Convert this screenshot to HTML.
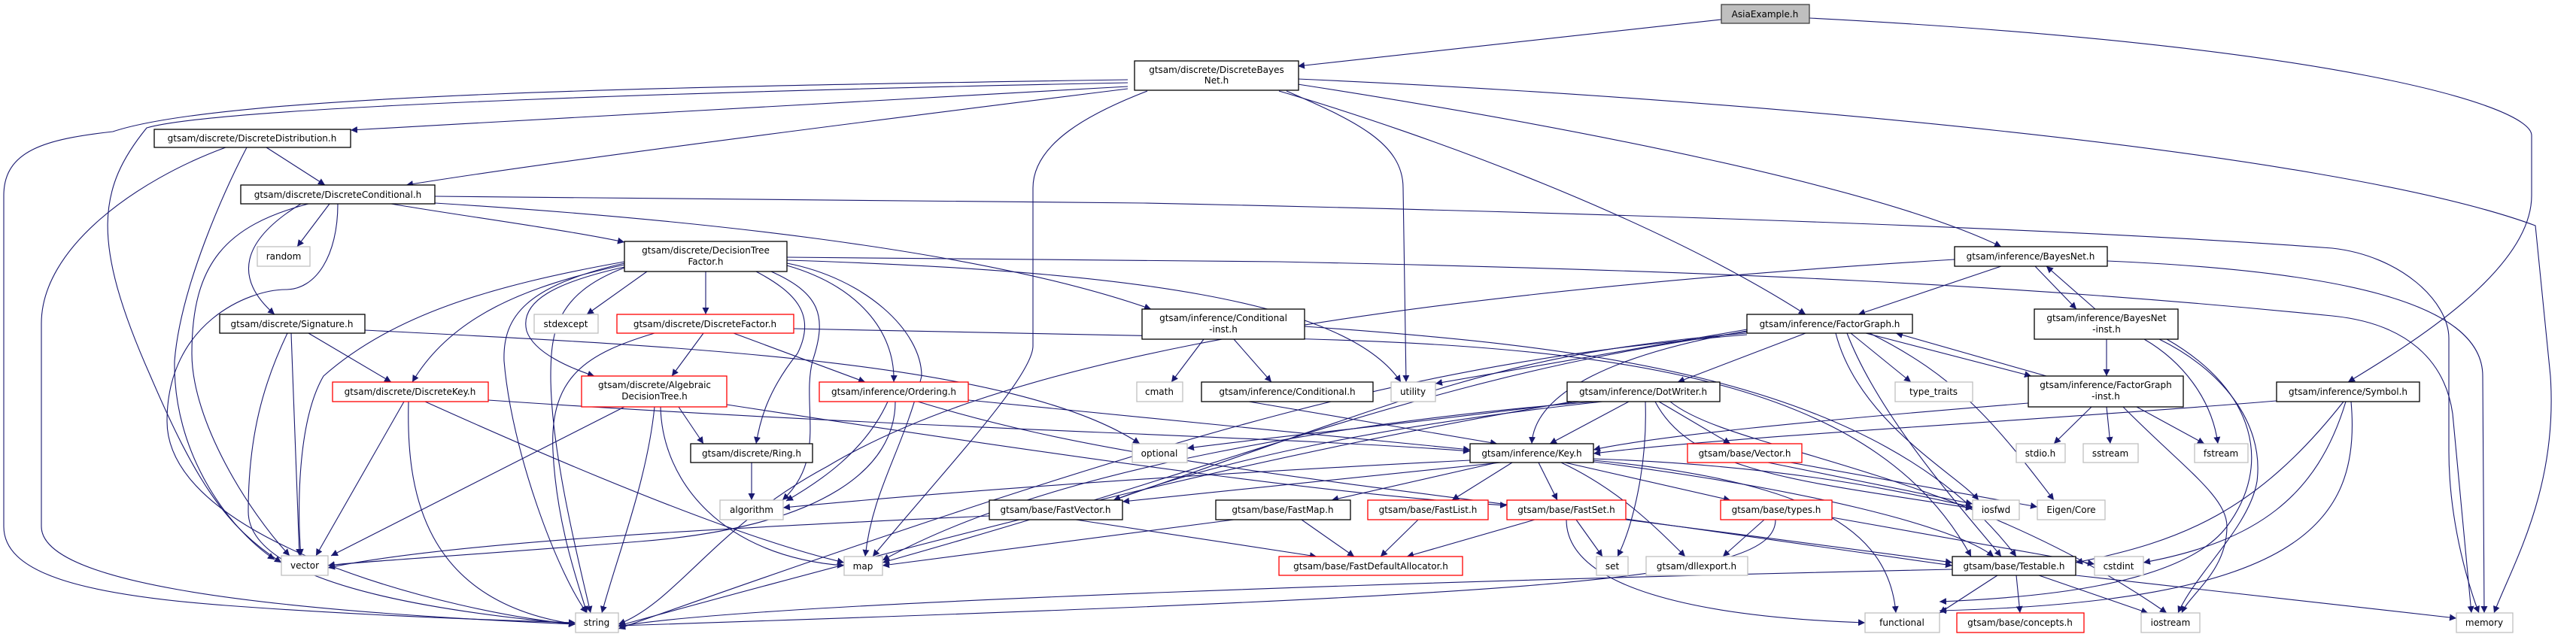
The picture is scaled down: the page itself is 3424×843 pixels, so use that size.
<!DOCTYPE html>
<html><head><meta charset="utf-8"><style>
html,body{margin:0;padding:0;background:#fff;}
svg{display:block;}
text{font-family:"DejaVu Sans","Liberation Sans",sans-serif;font-size:12px;fill:#000;text-anchor:middle;}
.b{fill:#fff;stroke:#000;stroke-width:1.3;}
.r{fill:#fff;stroke:#ff0000;stroke-width:1.3;}
.g{fill:#fff;stroke:#bfbfbf;stroke-width:1.3;}
.e path{fill:none;stroke:#191970;stroke-width:1.1;marker-end:url(#a);}
</style></head><body>
<svg width="3424" height="843" viewBox="0 0 3424 843" xmlns="http://www.w3.org/2000/svg">
<defs><marker id="a" viewBox="0 0 10 10" refX="10" refY="5" markerWidth="9" markerHeight="9" markerUnits="userSpaceOnUse" orient="auto"><path d="M0,0 L10,5 L0,10 z" fill="#191970"/></marker></defs>
<g class="e">
<path d="M2288,26 L1725,88"/>
<path d="M2405,24 C3100,60 3365,140 3365,180 L3365,260 C3365,360 3200,460 3121,508"/>
<path d="M1499,106 C900,115 300,125 150,175 C60,185 5,200 5,260 L5,700 C5,760 100,790 300,805 C500,820 700,826 765,828"/>
<path d="M1499,110 C1000,120 300,140 195,170 C130,250 120,320 200,500 C260,640 300,700 374,748"/>
<path d="M1499,115 L466,173"/>
<path d="M1499,118 C1000,180 700,220 540,246"/>
<path d="M1525,121 C1450,150 1373,190 1373,250 L1373,460 C1373,500 1260,620 1160,740"/>
<path d="M1710,121 C1800,160 1865,190 1865,250 L1869,508"/>
<path d="M1700,121 C1900,180 2200,290 2400,418"/>
<path d="M1725,112 C2100,170 2500,250 2660,328"/>
<path d="M1725,105 C2300,130 3100,200 3370,300 L3390,500 C3400,650 3340,750 3315,815"/>
<path d="M354,196 L432,246"/>
<path d="M328,196 C300,250 240,380 232,480 C230,600 300,700 365,744"/>
<path d="M300,196 C180,240 55,330 55,430 L55,700 C55,770 300,810 765,830"/>
<path d="M438,271 L395,328"/>
<path d="M400,271 C320,320 310,370 365,418"/>
<path d="M410,271 C300,300 255,350 255,470 C255,560 330,680 385,739"/>
<path d="M449,271 C449,340 420,385 380,385 C330,385 222,430 222,560 C222,720 600,815 765,830"/>
<path d="M520,271 C600,285 750,305 830,322"/>
<path d="M578,270 C900,290 1300,330 1530,411"/>
<path d="M578,261 L1520,270 C2000,280 2700,300 3100,330 C3190,340 3255,400 3255,450 L3255,600 C3255,700 3285,790 3295,815"/>
<path d="M938,361 L938,418"/>
<path d="M830,355 C740,375 690,400 700,440 C710,470 760,490 790,500"/>
<path d="M830,352 C700,380 600,420 548,508"/>
<path d="M830,348 C650,380 520,420 430,500 C395,560 395,680 400,739"/>
<path d="M830,350 C700,380 668,420 670,480 C680,600 740,760 780,815"/>
<path d="M830,356 C740,390 732,440 732,500 C732,600 770,750 785,815"/>
<path d="M860,361 L780,418"/>
<path d="M1005,361 C1060,390 1085,420 1060,470 C1020,520 1010,560 1005,590"/>
<path d="M1025,361 C1090,390 1100,420 1080,480 C1065,540 1100,610 1040,665"/>
<path d="M1046,353 C1140,380 1190,440 1188,508"/>
<path d="M1046,350 C1150,370 1225,440 1225,500 C1200,600 1160,650 1150,740"/>
<path d="M1046,346 C1500,360 1790,400 1862,508"/>
<path d="M1046,342 L1700,348 C2300,360 2700,380 3100,420 C3200,430 3250,480 3260,550 L3285,815"/>
<path d="M935,443 L893,500"/>
<path d="M975,443 L1150,508"/>
<path d="M870,443 C780,470 730,500 735,600 C740,700 770,780 780,815"/>
<path d="M1055,437 L1700,450 C2200,460 2500,520 2620,740"/>
<path d="M410,443 L520,508"/>
<path d="M387,443 L398,739"/>
<path d="M382,443 C350,510 330,580 330,680 C330,780 600,815 765,830"/>
<path d="M485,439 C900,460 1350,480 1515,590"/>
<path d="M537,534 L420,739"/>
<path d="M543,534 C540,650 560,800 765,830"/>
<path d="M565,534 C800,640 1000,720 1122,748"/>
<path d="M649,532 C1200,570 1700,580 1954,600"/>
<path d="M902,541 L935,590"/>
<path d="M878,541 C880,640 960,740 1122,752"/>
<path d="M870,541 C860,640 820,740 800,815"/>
<path d="M830,541 L440,739"/>
<path d="M966,538 C1500,620 1800,660 2003,672"/>
<path d="M1180,534 C1150,600 1090,640 1045,666"/>
<path d="M1190,534 C1190,620 1100,700 850,720 C600,740 460,748 436,752"/>
<path d="M1287,532 L1954,598"/>
<path d="M1220,534 C1500,620 1800,640 2595,748"/>
<path d="M999,615 L999,665"/>
<path d="M1600,451 L1557,508"/>
<path d="M1640,451 L1690,508"/>
<path d="M1734,434 C2100,460 2500,500 2680,740"/>
<path d="M1660,534 L1990,590"/>
<path d="M1315,686 C1000,700 600,720 436,755"/>
<path d="M1430,691 L1750,740"/>
<path d="M1640,691 L1173,752"/>
<path d="M1730,691 L1800,740"/>
<path d="M1885,691 L1835,740"/>
<path d="M2040,691 L1870,740"/>
<path d="M2095,691 L2130,740"/>
<path d="M2082,691 C2082,780 2250,820 2479,828"/>
<path d="M2161,690 L2595,752"/>
<path d="M1995,615 L1492,667"/>
<path d="M1990,615 L1770,665"/>
<path d="M2010,615 L1930,665"/>
<path d="M2045,615 L2070,665"/>
<path d="M2080,615 L2300,665"/>
<path d="M2075,615 C2150,650 2200,700 2240,740"/>
<path d="M2118,612 C2400,640 2510,700 2520,815"/>
<path d="M2118,610 C2400,620 2550,660 2622,674"/>
<path d="M2118,614 C2400,650 2600,700 2650,740"/>
<path d="M1954,612 C1600,630 1300,650 1041,675"/>
<path d="M2380,615 L2708,674"/>
<path d="M2350,615 L2622,670"/>
<path d="M2165,534 L2060,590"/>
<path d="M2205,534 L2300,590"/>
<path d="M2187,534 C2190,620 2170,700 2150,740"/>
<path d="M2120,534 C1800,560 1400,620 1173,745"/>
<path d="M2100,534 C1900,560 1700,580 1578,596"/>
<path d="M2130,534 C1800,570 1600,620 1480,665"/>
<path d="M2090,534 C1700,600 1300,700 822,832"/>
<path d="M2200,534 C2250,630 2400,640 2622,676"/>
<path d="M2220,534 C2300,600 2600,620 2880,815"/>
<path d="M2400,443 L2230,508"/>
<path d="M2322,440 C2150,470 2040,520 2036,590"/>
<path d="M2322,438 L1908,510"/>
<path d="M2322,443 C2000,470 1900,520 1480,665"/>
<path d="M2322,445 C1900,480 1600,560 822,836"/>
<path d="M2322,441 C1900,500 1700,600 1173,748"/>
<path d="M2460,443 L2540,508"/>
<path d="M2480,443 L2700,500"/>
<path d="M2720,500 L2520,443"/>
<path d="M2440,443 C2470,560 2600,630 2630,665"/>
<path d="M2455,443 C2500,560 2620,690 2660,740"/>
<path d="M2485,443 C2600,500 2650,560 2730,665"/>
<path d="M2660,354 L2470,418"/>
<path d="M2705,354 L2760,411"/>
<path d="M2785,411 L2720,354"/>
<path d="M2801,347 C3100,360 3300,400 3300,500 L3302,815"/>
<path d="M2598,345 C1700,400 1300,500 1100,620 C950,700 900,800 822,830"/>
<path d="M2800,451 L2800,500"/>
<path d="M2850,451 C2900,480 2940,530 2948,590"/>
<path d="M2870,451 C2950,490 3010,560 3000,640 C2990,700 2920,760 2895,815"/>
<path d="M2880,451 C3000,520 3020,620 2960,700 C2900,780 2700,795 2578,800"/>
<path d="M2780,541 L2730,590"/>
<path d="M2800,541 L2805,590"/>
<path d="M2840,541 L2930,590"/>
<path d="M2822,541 C2900,620 2960,660 2960,700 C2960,760 2910,790 2900,815"/>
<path d="M2696,536 C2400,560 2200,580 2118,598"/>
<path d="M3026,533 C2700,560 2300,580 2118,603"/>
<path d="M3115,534 C3000,680 2900,720 2759,748"/>
<path d="M3118,534 C3080,660 3000,720 2849,748"/>
<path d="M3125,534 C3140,700 3050,800 2578,812"/>
<path d="M2345,691 L2290,740"/>
<path d="M2435,688 L2784,750"/>
<path d="M2360,691 C2360,770 2100,790 822,832"/>
<path d="M2595,757 C2000,770 1000,800 822,833"/>
<path d="M2655,765 L2578,815"/>
<path d="M2680,765 L2685,815"/>
<path d="M2710,765 L2855,815"/>
<path d="M2759,765 L3265,822"/>
</g>
<g>
<rect x="2288" y="6" width="117" height="25" fill="#bfbfbf" stroke="#404040" stroke-width="1.3"/><text x="2346" y="23">AsiaExample.h</text>
<rect class="b" x="1508" y="81" width="218" height="39"/><text x="1617" y="97">gtsam/discrete/DiscreteBayes</text><text x="1617" y="111">Net.h</text>
<rect class="b" x="205" y="172" width="261" height="24"/><text x="335" y="188">gtsam/discrete/DiscreteDistribution.h</text>
<rect class="b" x="320" y="246" width="258" height="25"/><text x="449" y="263">gtsam/discrete/DiscreteConditional.h</text>
<rect class="g" x="342" y="328" width="70" height="26"/><text x="377" y="345">random</text>
<rect class="b" x="292" y="418" width="193" height="25"/><text x="388" y="435">gtsam/discrete/Signature.h</text>
<rect class="r" x="442" y="508" width="207" height="26"/><text x="545" y="525">gtsam/discrete/DiscreteKey.h</text>
<rect class="g" x="374" y="739" width="62" height="26"/><text x="405" y="756">vector</text>
<rect class="g" x="765" y="815" width="57" height="26"/><text x="793" y="832">string</text>
<rect class="g" x="710" y="418" width="85" height="25"/><text x="752" y="435">stdexcept</text>
<rect class="b" x="830" y="321" width="216" height="40"/><text x="938" y="337">gtsam/discrete/DecisionTree</text><text x="938" y="352">Factor.h</text>
<rect class="r" x="820" y="418" width="235" height="25"/><text x="937" y="435">gtsam/discrete/DiscreteFactor.h</text>
<rect class="r" x="773" y="500" width="193" height="41"/><text x="870" y="516">gtsam/discrete/Algebraic</text><text x="870" y="531">DecisionTree.h</text>
<rect class="r" x="1089" y="508" width="198" height="26"/><text x="1188" y="525">gtsam/inference/Ordering.h</text>
<rect class="b" x="918" y="590" width="162" height="25"/><text x="999" y="607">gtsam/discrete/Ring.h</text>
<rect class="g" x="957" y="665" width="84" height="26"/><text x="999" y="682">algorithm</text>
<rect class="g" x="1122" y="740" width="51" height="25"/><text x="1147" y="757">map</text>
<rect class="b" x="1315" y="665" width="177" height="26"/><text x="1403" y="682">gtsam/base/FastVector.h</text>
<rect class="b" x="1518" y="411" width="216" height="40"/><text x="1626" y="427">gtsam/inference/Conditional</text><text x="1626" y="442">-inst.h</text>
<rect class="g" x="1511" y="508" width="61" height="26"/><text x="1541" y="525">cmath</text>
<rect class="b" x="1597" y="508" width="228" height="26"/><text x="1711" y="525">gtsam/inference/Conditional.h</text>
<rect class="g" x="1505" y="590" width="73" height="25"/><text x="1541" y="607">optional</text>
<rect class="b" x="1616" y="665" width="179" height="26"/><text x="1705" y="682">gtsam/base/FastMap.h</text>
<rect class="r" x="1700" y="740" width="244" height="25"/><text x="1822" y="757">gtsam/base/FastDefaultAllocator.h</text>
<rect class="g" x="1849" y="508" width="59" height="26"/><text x="1878" y="525">utility</text>
<rect class="b" x="2083" y="508" width="203" height="26"/><text x="2184" y="525">gtsam/inference/DotWriter.h</text>
<rect class="b" x="2322" y="418" width="220" height="25"/><text x="2432" y="435">gtsam/inference/FactorGraph.h</text>
<rect class="b" x="1954" y="590" width="164" height="25"/><text x="2036" y="607">gtsam/inference/Key.h</text>
<rect class="r" x="2243" y="590" width="152" height="25"/><text x="2319" y="607">gtsam/base/Vector.h</text>
<rect class="r" x="1818" y="665" width="160" height="26"/><text x="1898" y="682">gtsam/base/FastList.h</text>
<rect class="r" x="2003" y="665" width="158" height="26"/><text x="2082" y="682">gtsam/base/FastSet.h</text>
<rect class="r" x="2287" y="665" width="148" height="26"/><text x="2361" y="682">gtsam/base/types.h</text>
<rect class="g" x="2122" y="740" width="42" height="25"/><text x="2143" y="757">set</text>
<rect class="g" x="2188" y="740" width="135" height="25"/><text x="2255" y="757">gtsam/dllexport.h</text>
<rect class="g" x="2479" y="815" width="99" height="26"/><text x="2528" y="832">functional</text>
<rect class="g" x="2519" y="508" width="103" height="26"/><text x="2570" y="525">type_traits</text>
<rect class="b" x="2598" y="328" width="203" height="26"/><text x="2699" y="345">gtsam/inference/BayesNet.h</text>
<rect class="b" x="2704" y="411" width="191" height="40"/><text x="2800" y="427">gtsam/inference/BayesNet</text><text x="2800" y="442">-inst.h</text>
<rect class="b" x="2696" y="500" width="206" height="41"/><text x="2799" y="516">gtsam/inference/FactorGraph</text><text x="2799" y="531">-inst.h</text>
<rect class="b" x="3026" y="508" width="190" height="26"/><text x="3121" y="525">gtsam/inference/Symbol.h</text>
<rect class="g" x="2680" y="590" width="65" height="25"/><text x="2712" y="607">stdio.h</text>
<rect class="g" x="2769" y="590" width="73" height="25"/><text x="2805" y="607">sstream</text>
<rect class="g" x="2917" y="590" width="71" height="25"/><text x="2952" y="607">fstream</text>
<rect class="g" x="2622" y="665" width="62" height="26"/><text x="2653" y="682">iosfwd</text>
<rect class="g" x="2708" y="665" width="90" height="26"/><text x="2753" y="682">Eigen/Core</text>
<rect class="b" x="2595" y="740" width="164" height="25"/><text x="2677" y="757">gtsam/base/Testable.h</text>
<rect class="g" x="2784" y="740" width="65" height="25"/><text x="2816" y="757">cstdint</text>
<rect class="r" x="2601" y="815" width="169" height="26"/><text x="2685" y="832">gtsam/base/concepts.h</text>
<rect class="g" x="2846" y="815" width="78" height="26"/><text x="2885" y="832">iostream</text>
<rect class="g" x="3265" y="815" width="75" height="26"/><text x="3302" y="832">memory</text>
</g>
</svg>
</body></html>
